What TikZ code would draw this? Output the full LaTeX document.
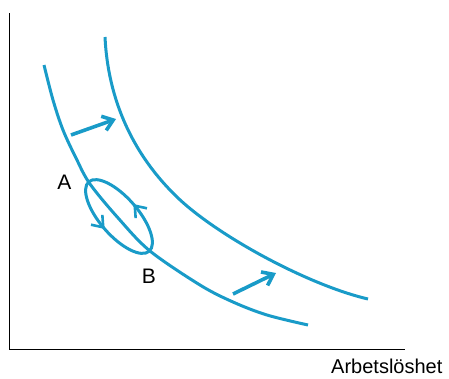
\documentclass[tikz,border=0pt]{standalone}
\usepackage{fontspec}
\setmainfont{Liberation Sans}
\usetikzlibrary{arrows.meta,decorations.markings}
\definecolor{curveblue}{RGB}{25,155,200}
\tikzset{
  axisline/.style={line width=1.4pt, black},
  curve/.style={line width=3pt, curveblue, line cap=butt},
  shiftarrow/.style={line width=3.6pt, curveblue, -{Straight Barb[length=10pt,width=15pt]}},
  cyclebox/.style={line width=3pt, curveblue,
    postaction={decorate, decoration={markings,
      mark=at position 0.25 with {\arrow[line width=2.6pt]{Straight Barb[length=10pt,width=15pt]}},
      mark=at position 0.75 with {\arrow[line width=2.6pt]{Straight Barb[length=10pt,width=15pt]}}}}},
  lbl/.style={font=\fontsize{21}{24}\selectfont, inner sep=0pt, text=black}
}
\begin{document}
\begin{tikzpicture}[x=1pt,y=-1pt]
\useasboundingbox (0,0) rectangle (449,378);
% axes
\coordinate (yTop) at (9.5,13);
\coordinate (orig) at (9.5,349.5);
\coordinate (xEnd) at (405,349.5);
\draw[axisline] (yTop) -- (orig) -- (xEnd);
% inner curve
\draw[curve] plot[smooth, tension=0.55] coordinates {(44,65) (53,100) (63,130) (76,158) (90,184) (119,219) (150,251) (200,285) (233,302) (267,315) (308,325)};
% outer curve
\draw[curve] (105,37) .. controls (108,100) and (133,155) .. (178,198)
  .. controls (218,236) and (308,285) .. (368,299);
% shift arrows
\coordinate (s1) at (71,135);
\coordinate (t1) at (116,119);
\draw[shiftarrow] (s1) -- (t1);
\coordinate (s2) at (233,294);
\coordinate (t2) at (276,273);
\draw[shiftarrow] (s2) -- (t2);
% ellipse cycle
\coordinate (ec) at (119,216.5);
\draw[cyclebox, rotate around={-49:(ec)}] (ec) ellipse [x radius=46pt, y radius=19pt];
% labels
\node[lbl, anchor=base] (A) at (64.5,189) {A};
\node[lbl, anchor=base] (B) at (149,283) {B};
\node[lbl, font=\fontsize{20}{24}\selectfont, anchor=base west] (xl) at (331,373) {Arbetslöshet};
\end{tikzpicture}
\end{document}
